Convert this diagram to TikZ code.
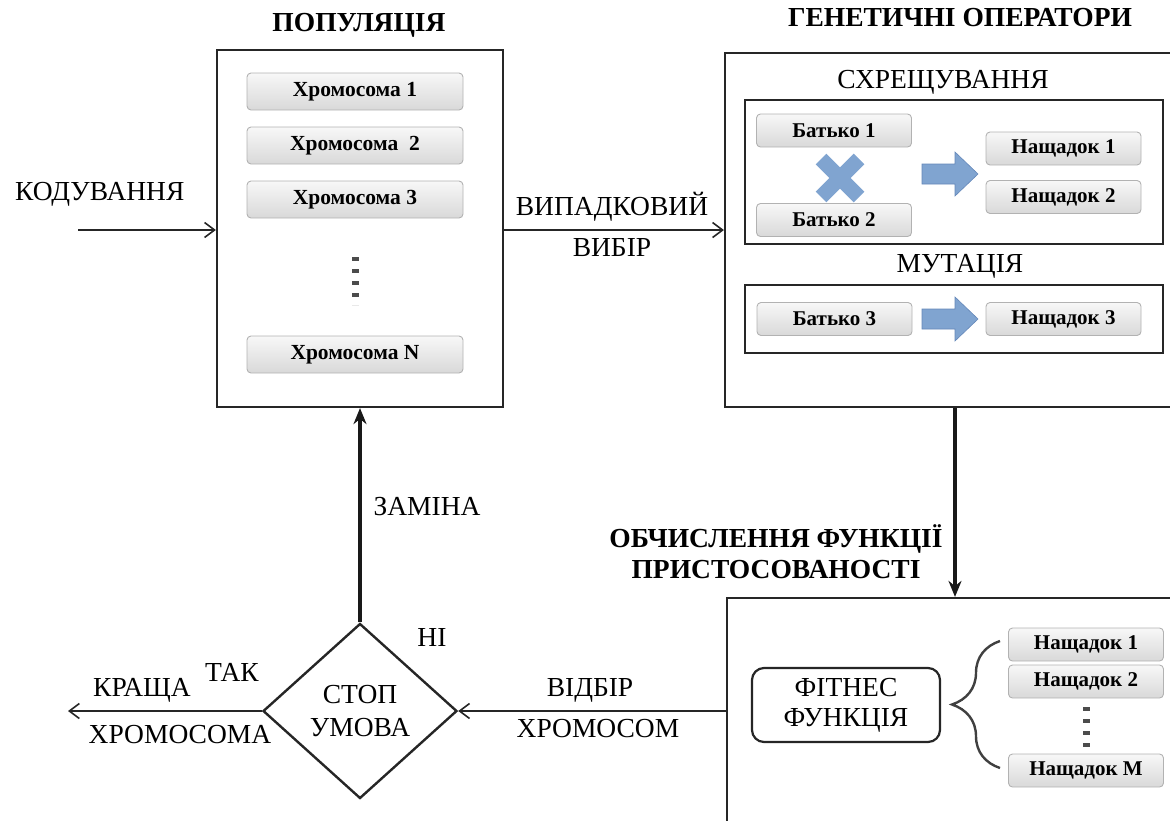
\documentclass[tikz,border=0pt]{standalone}
\usepackage{fontspec}
\setmainfont{Liberation Serif}
\usetikzlibrary{arrows.meta,decorations.pathreplacing,shapes.geometric,calc}

\definecolor{steel}{RGB}{128,164,208}
\definecolor{steeledge}{RGB}{100,135,185}

\tikzset{
  frame/.style={draw=black!85, line width=2.2pt, inner sep=0pt},
  chrom/.style={draw=gray!60, rounded corners=4pt, top color=gray!6, bottom color=gray!30,
    line width=0.9pt, minimum width=216pt, minimum height=37pt, inner sep=0pt,
    font=\fontsize{21.5}{23}\selectfont\bfseries},
  item/.style={chrom, minimum width=155pt, minimum height=33pt, font=\fontsize{21}{23}\selectfont\bfseries},
  lbl/.style={font=\fontsize{27.5}{29}\selectfont, inner sep=0pt},
  ttl/.style={font=\fontsize{27.5}{31}\selectfont\bfseries, inner sep=0pt, align=center},
  link/.style={line width=2.8pt, draw=black!85, -{Straight Barb[length=10pt,width=15pt,line width=1.6pt]}},
  uplink/.style={line width=3.2pt, draw=black!90, -{Stealth[length=16pt,width=13pt]}},
  vdots/.style={line width=7pt, draw=gray!60!black, dash pattern=on 4pt off 8pt},
  blockfill/.style={fill=steel, draw=steeledge, line width=0.6pt}
}

\begin{document}
\begin{tikzpicture}[x=1pt,y=-1pt]
\useasboundingbox (0,0) rectangle (1170,820);
\clip (0,0) rectangle (1170,820);

% ---------- population ----------
\node[ttl] (poptitle) at (359,25) {ПОПУЛЯЦІЯ};
\node[frame, minimum width=286pt, minimum height=357pt] (pop) at (360,228.5) {};
\node[chrom] (c1) at (355,91.5) {Хромосома 1};
\node[chrom] (c2) at (355,145.5) {Хромосома\ \ 2};
\node[chrom] (c3) at (355,199.5) {Хромосома 3};
\node[chrom] (cn) at (355,354.5) {Хромосома N};
\draw[vdots] (355,257) -- (355,305);

% ---------- genetic operators ----------
\node[ttl] (gentitle) at (960,18) {ГЕНЕТИЧНІ ОПЕРАТОРИ};
\node[frame, minimum width=447pt, minimum height=354pt] (gen) at (948.5,230) {};
\node[lbl] (crossttl) at (943,82) {СХРЕЩУВАННЯ};
\node[frame, minimum width=418pt, minimum height=144pt] (cross) at (954,172) {};
\node[item] (p1) at (834,130.5) {Батько 1};
\node[item] (p2) at (834,220) {Батько 2};
\node[item] (o1) at (1063.5,148.5) {Нащадок 1};
\node[item] (o2) at (1063.5,197) {Нащадок 2};
% crossover mark
\draw[line width=15pt, draw=steel] (821,159) -- (859,197) (859,159) -- (821,197);
% block arrows
\fill[blockfill] (922,164) -- (955,164) -- (955,152) -- (978,174) -- (955,196) -- (955,184) -- (922,184) -- cycle;
\node[lbl] (mutttl) at (960,266) {МУТАЦІЯ};
\node[frame, minimum width=418pt, minimum height=68pt] (mut) at (954,319) {};
\node[item] (p3) at (834.5,319) {Батько 3};
\node[item] (o3) at (1063.5,319) {Нащадок 3};
\fill[blockfill] (922,309) -- (955,309) -- (955,297) -- (978,319) -- (955,341) -- (955,329) -- (922,329) -- cycle;

% ---------- fitness evaluation ----------
\node[ttl] (fittitle) at (776,552) {ОБЧИСЛЕННЯ ФУНКЦІЇ\\ПРИСТОСОВАНОСТІ};
\node[frame, minimum width=447pt, minimum height=232pt] (fit) at (950.5,714) {};
\node[draw=black!85, line width=2.2pt, rounded corners=12pt, minimum width=188pt, minimum height=74pt,
  align=center, font=\fontsize{27.5}{30}\selectfont] (ff) at (846,705) {ФІТНЕС\\ФУНКЦІЯ};
\node[item] (f1) at (1086,644.5) {Нащадок 1};
\node[item] (f2) at (1086,681.5) {Нащадок 2};
\node[item] (fm) at (1086,770.5) {Нащадок M};
\draw[vdots] (1086,707) -- (1086,748);
\draw[line width=2.4pt, draw=black!75, decorate, decoration={brace, amplitude=48pt, aspect=0.5}]
  (1000,768) -- (1000,641);

% ---------- stop condition ----------
\node[draw=black!85, line width=2.4pt, shape=diamond, minimum width=194pt, minimum height=175pt,
  inner sep=0pt, align=center, font=\fontsize{27.5}{33}\selectfont] (stop) at (360,711) {СТОП\\УМОВА};

% ---------- connectors ----------
\coordinate (kin) at (78,230);
\draw[link] (kin) -- (kin -| pop.west);
\node[lbl, anchor=south west] (kod) at (15,207) {КОДУВАННЯ};

\coordinate (pe) at (pop.east |- kin);
\draw[link] (pe) -- (pe -| gen.west);
\node[lbl] (rnd1) at (612,207) {ВИПАДКОВИЙ};
\node[lbl] (rnd2) at (612,248) {ВИБІР};

\coordinate (gs) at ($(gen.south)+(6.5,0)$);
\draw[uplink] (gs) -- (gs |- fit.north);

\draw[link] (fit.west |- stop.east) -- (stop.east);
\node[lbl] (sel1) at (590,690) {ВІДБІР};
\node[lbl] (sel2) at (598,729) {ХРОМОСОМ};

\draw[uplink] (stop.north) -- (pop.south);
\node[lbl] (repl) at (427,507) {ЗАМІНА};
\node[lbl] (no) at (432,637) {НІ};

\coordinate (best) at (68,711);
\draw[link] (stop.west) -- (best);
\node[lbl] (yes) at (232,672) {ТАК};
\node[lbl] (b1) at (142,690) {КРАЩА};
\node[lbl] (b2) at (180,735) {ХРОМОСОМА};
\end{tikzpicture}
\end{document}
